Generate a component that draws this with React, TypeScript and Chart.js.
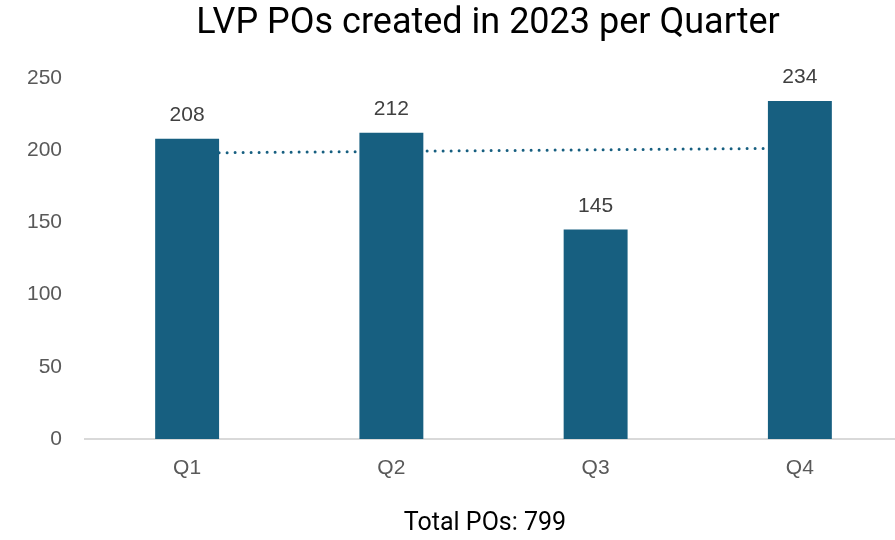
import React, { useEffect, useRef } from "react";
import { Chart, registerables } from "chart.js";

Chart.register(...registerables);

const categories = ["Q1", "Q2", "Q3", "Q4"];
const poCounts = [208, 212, 145, 234];
const trendValues = [198.1, 199.2, 200.3, 201.4];
const yTicks = [0, 50, 100, 150, 200, 250];
const titleText = "LVP POs created in 2023 per Quarter";
const footerText = "Total POs: 799";

const BAR_COLOR = "#175F80";
const TEXT_GRAY = "#595959";
const FONT = "'Liberation Sans', Arial, sans-serif";

const textPlugin = {
  id: "customText",
  afterDatasetsDraw(chart: any) {
    const { ctx, chartArea } = chart;
    const meta = chart.getDatasetMeta(1);
    ctx.save();
    ctx.fillStyle = "#404040";
    ctx.font = `21px ${FONT}`;
    ctx.textAlign = "center";
    ctx.textBaseline = "alphabetic";
    meta.data.forEach((bar: any, i: number) => {
      ctx.fillText(String(poCounts[i]), bar.x, bar.y - 18);
    });
    const cx = 488;
    ctx.fillStyle = "#000000";
    ctx.font = `36px 'Roboto', sans-serif`;
    ctx.textBaseline = "middle";
    ctx.fillText(titleText, cx, 24);
    ctx.font = `25px 'Roboto', sans-serif`;
    ctx.fillText(footerText, 485, 524);
    ctx.restore();
  },
};

export default function App() {
  const ref = useRef<HTMLCanvasElement>(null);
  useEffect(() => {
    if (!ref.current) return;
    const chart = new Chart(ref.current, {
      type: "bar",
      data: {
        labels: categories,
        datasets: [
          {
            type: "line",
            data: trendValues,
            borderColor: BAR_COLOR,
            borderWidth: 3,
            borderDash: [0, 8],
            borderCapStyle: "round",
            pointRadius: 0,
            fill: false,
            order: 2,
          } as any,
          {
            type: "bar",
            data: poCounts,
            backgroundColor: BAR_COLOR,
            barPercentage: 1,
            categoryPercentage: 0.313,
            order: 1,
          },
        ],
      },
      options: {
        responsive: false,
        animation: false,
        layout: { padding: { top: 78, right: 3, left: 0, bottom: 0 } },
        plugins: {
          legend: { display: false },
          title: { display: false },
          tooltip: { enabled: false },
        },
        scales: {
          x: {
            grid: { display: false, drawTicks: false },
            border: { display: true, color: "#D9D9D9", width: 2 },
            ticks: { color: TEXT_GRAY, font: { family: FONT, size: 21 }, padding: 17 },
            afterFit(scale: any) {
              scale.height = 101;
            },
          },
          y: {
            min: 0,
            max: 250,
            afterBuildTicks(scale: any) {
              scale.ticks = yTicks.map((v) => ({ value: v }));
            },
            grid: { display: false, drawTicks: false },
            border: { display: false },
            ticks: { color: TEXT_GRAY, font: { family: FONT, size: 21 }, padding: 23 },
            afterFit(scale: any) {
              scale.width = 85;
            },
          },
        },
      },
      plugins: [textPlugin],
    });
    return () => chart.destroy();
  }, []);
  return (
    <div style={{ position: "fixed", left: 0, top: 0, width: 895, height: 540, overflow: "hidden", background: "#fff" }}>
      <canvas ref={ref} width={905} height={540} />
    </div>
  );
}
